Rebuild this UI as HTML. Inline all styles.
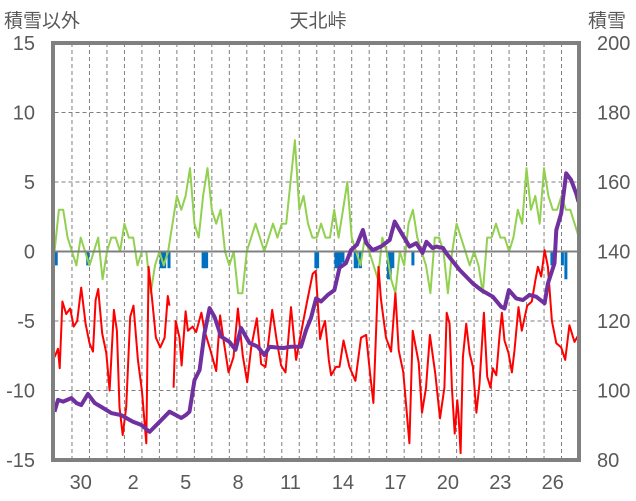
<!DOCTYPE html>
<html><head><meta charset="utf-8">
<style>
html,body{margin:0;padding:0;background:#fff;}
svg{display:block;font-family:"Liberation Sans","Noto Sans CJK JP",sans-serif;}
</style></head>
<body>
<svg id="chart" width="636" height="501" viewBox="0 0 636 501"></svg>
<script>
// ---- data ----
const dayLabels = ["30","2","5","8","11","14","17","20","23","26"];
const dayLabelIdx = [1,4,7,10,13,16,19,22,25,28];
const leftTicks = [15,10,5,0,-5,-10,-15];
const rightTicks = [200,180,160,140,120,100,80];
// temperature (left axis): time in days, value
const tempT = [0,0.2,0.3,0.45,0.67,0.9,1.1,1.3,1.53,1.78,2.0,2.2,2.35,2.5,2.73,2.96,3.15,3.4,3.57,3.72,3.9,4.1,4.33,4.52,4.77,5.0,5.25,5.38,5.57,5.8,6.05,6.3,6.48,6.58,6.7,6.81,6.93,7.15,7.27,7.5,7.63,7.9,8.1,8.4,8.58,8.87,9.25,9.47,9.67,9.95,10.24,10.49,10.77,11.02,11.25,11.57,11.82,12.07,12.45,12.71,12.96,13.21,13.53,13.82,14.05,14.43,14.77,14.94,15.19,15.34,15.48,15.69,15.82,16.1,16.3,16.53,16.87,17.21,17.53,17.82,18.05,18.24,18.53,18.67,18.96,19.25,19.5,19.69,19.95,20.3,20.49,20.83,21.02,21.25,21.47,21.78,22.05,22.3,22.43,22.6,22.73,22.89,23.04,23.11,23.23,23.36,23.55,23.74,23.93,24.13,24.31,24.56,24.75,24.94,25.07,25.27,25.46,25.59,25.74,25.97,26.16,26.31,26.54,26.73,27.04,27.3,27.5,27.65,27.84,28.03,28.22,28.45,28.7,28.98,29.21,29.45,29.74,29.97];
const tempV = [-7.6,-7.0,-8.4,-3.6,-4.5,-4.1,-5.4,-5.0,-2.6,-5.2,-6.6,-7.2,-3.5,-2.7,-5.9,-7.3,-10.0,-4.2,-5.7,-11.2,-13.2,-11.2,-4.7,-3.9,-7.8,-10.0,-13.8,-1.1,-3.3,-6.2,-6.9,-6.2,-3.2,-3.9,null,-9.8,-5.0,-6.2,-8.2,-4.3,-5.7,-5.4,-5.8,-4.4,-5.7,-6.9,-8.6,-4.6,-6.4,-8.7,-7.6,-4.1,-7.5,-9.4,-6.9,-4.8,-8.1,-8.3,-4.2,-6.4,-8.2,-8.7,-4.0,-7.8,-6.2,-3.7,-1.6,-1.4,-6.3,-5.5,-5.0,-7.8,-8.9,-8.3,-8.3,-6.4,-8.3,-9.3,-6.2,-6.0,-8.8,-10.9,-1.1,-3.4,-6.2,-7.2,-3.0,-7.1,-8.7,-13.8,-5.7,-8.0,-11.6,-9.8,-6.0,-8.8,-12.0,-9.8,-4.4,-5.2,-9.8,-13.1,-10.7,-11.7,-14.5,-7.6,-5.2,-7.3,-8.3,-11.6,-9.5,-4.4,-9.0,-9.8,-8.4,-8.9,-6.0,-4.4,-6.4,-7.3,-8.7,-7.1,-4.0,-5.7,-3.9,-3.6,-2.1,-1.1,-1.8,0.1,-1.1,-5.0,-6.6,-6.9,-7.8,-5.3,-6.5,-6.0];
// snow depth (right axis)
const snowT = [0,0.2,0.49,0.96,1.25,1.53,1.91,2.3,2.77,3.25,3.82,4.49,4.96,5.44,6.01,6.58,7.25,7.53,7.72,8.01,8.3,8.58,8.87,9.15,9.53,10.01,10.35,10.67,11.15,11.63,12.01,12.3,13.06,13.53,14.1,14.39,14.67,14.96,15.25,15.63,16.01,16.3,16.67,16.96,17.3,17.64,17.84,18.2,18.7,19.17,19.46,19.74,20.31,20.69,21.05,21.27,21.62,21.84,22.22,22.41,23.17,23.93,24.41,25.07,25.55,25.74,25.99,26.41,26.79,27.17,27.55,28.03,28.22,28.6,28.7,28.98,29.27,29.55,29.84,29.97];
const snowV = [93.9,97.3,96.8,97.8,96.4,95.8,99.0,96.4,95.0,93.5,92.9,91.0,90.1,88.1,91.0,93.9,92.1,93.0,93.9,103,105.9,116.5,123.7,121.2,115.5,114.0,111.7,118.0,113.7,112.6,110.2,112.6,112.2,112.6,112.6,117.4,120.9,126.5,125.6,127.5,128.9,135.3,136.6,140.4,142,146.2,142.4,140.4,141.5,143.3,148.6,146.2,141.4,142.4,139.6,142.8,141.0,141.4,141.0,139.5,134.7,130.8,128.9,127.0,124.1,123.6,128.9,126.5,126.0,127.5,127.0,125.1,130.8,136.6,146.2,151.0,162.5,160.6,156.7,154.3];
// green series (left axis), every 0.25 day
const greenV = [0,3,3,1,0,-1,1,0,-1,0,1,-2,0,1,1,0,2,1,1,-1,0,0,-3,-1,0,-1,0,2,4,3,4,6,2,1,4,6,3,2,3,0,-1,0,-3,-3,0,1,2,1,0,1,2,1,2,2,5,8,3,4,2,1,1,2,1,1,3,1,3,5,1,0,-1,1,0,-1,-2,1,0,-2,-3,0,-1,2,3,1,0,-1,-3,1,1,0,-3,0,2,1,0,-1,0,-1,-3,1,1,2,1,1,0,1,3,2,6,3,4,2,6,4,3,3,4,3,3,2,1];
// blue bars (left axis)
const blueT = [0.1,1.9,6.1,6.2,6.3,6.55,8.5,8.6,8.7,14.95,15.05,16.1,16.2,16.35,16.5,17.2,17.3,17.5,19.1,19.2,19.35,20.5,28.45,29.05,29.25];
const blueV = [-1,-1,-1.2,-1.2,-1.2,-1.2,-1.2,-1.2,-1.2,-1.2,-1.2,-1.2,-1.2,-1.2,-0.8,-1.2,-1.2,-1.2,-2,-2,-1.2,-1,-1,-1,-2];

// ---- layout ----
const NS="http://www.w3.org/2000/svg";
const svg=document.getElementById('chart');
const PL=54.5, PR=579, PT=43, PB=460, DAYS=30;
const xS=t=>PL+(PR-PL)*t/DAYS;
const yL=v=>PT+(PB-PT)*(15-v)/30;
const yR=v=>PT+(PB-PT)*(200-v)/120;
function mk(tag,attrs,parent){const e=document.createElementNS(NS,tag);for(const k in attrs)e.setAttribute(k,attrs[k]);(parent||svg).appendChild(e);return e;}

// grid
const grid=mk('g',{});


for(let d=1;d<DAYS;d++){const x=xS(d);const l=mk('line',{x1:x,x2:x,y1:PT,y2:PB,stroke:'#7f7f7f','stroke-width':1,'stroke-dasharray':'4,3'},grid);

}
leftTicks.forEach(v=>{if(v===15||v===-15||v===0)return;const y=yL(v);const l=mk('line',{x1:PL,x2:PR,y1:y,y2:y,stroke:'#7f7f7f','stroke-width':1,'stroke-dasharray':'4,3'},grid);

});

// blue bars
const bg=mk('g',{});


blueT.forEach((t,i)=>{const y0=yL(0),y1=yL(blueV[i]);const r=mk('rect',{x:xS(t)-1.5,y:Math.min(y0,y1),width:3,height:Math.abs(y1-y0),fill:'#0070C0'},bg);

});

// green line
let gd='';greenV.forEach((v,i)=>{gd+=(i?'L':'M')+xS(i*0.25).toFixed(1)+','+yL(v).toFixed(1);});
const gl=mk('path',{d:gd,fill:'none',stroke:'#92D050','stroke-width':2,'stroke-linejoin':'round'});



// zero line
const z=mk('line',{x1:PL,x2:PR,y1:yL(0),y2:yL(0),stroke:'#808080','stroke-width':2});



// red line
let rd='',pen=false;tempT.forEach((t,i)=>{const v=tempV[i];if(v===null){pen=false;return;}rd+=(pen?'L':'M')+xS(t).toFixed(1)+','+yL(v).toFixed(1);pen=true;});
const rl=mk('path',{d:rd,fill:'none',stroke:'#FF0000','stroke-width':2,'stroke-linejoin':'round'});



// purple line
let pd='';snowT.forEach((t,i)=>{pd+=(i?'L':'M')+xS(t).toFixed(1)+','+yR(snowV[i]).toFixed(1);});
const pl=mk('path',{d:pd,fill:'none',stroke:'#7030A0','stroke-width':4,'stroke-linejoin':'round'});



// frame
const fr=mk('rect',{x:53,y:43,width:526,height:417,fill:'none',stroke:'#808080','stroke-width':4});



// tick labels
leftTicks.forEach(v=>{const t=mk('text',{x:35,y:yL(v)+7,'text-anchor':'end','font-size':20,fill:'#595959'});t.textContent=v;

});
rightTicks.forEach(v=>{const t=mk('text',{x:597,y:yR(v)+7,'font-size':20,fill:'#595959'});t.textContent=v;

});
dayLabels.forEach((s,i)=>{const t=mk('text',{x:xS(dayLabelIdx[i]+0.5),y:489,'text-anchor':'middle','font-size':20,fill:'#595959'});t.textContent=s;

});

const lt=mk('text',{x:4,y:27,'font-size':19,fill:'#595959'});lt.textContent='積雪以外';


const rt=mk('text',{x:588,y:27,'font-size':19,fill:'#595959'});rt.textContent='積雪';


const ct=mk('text',{x:318,y:27,'text-anchor':'middle','font-size':19,fill:'#595959'});ct.textContent='天北峠';


</script>
</body></html>
